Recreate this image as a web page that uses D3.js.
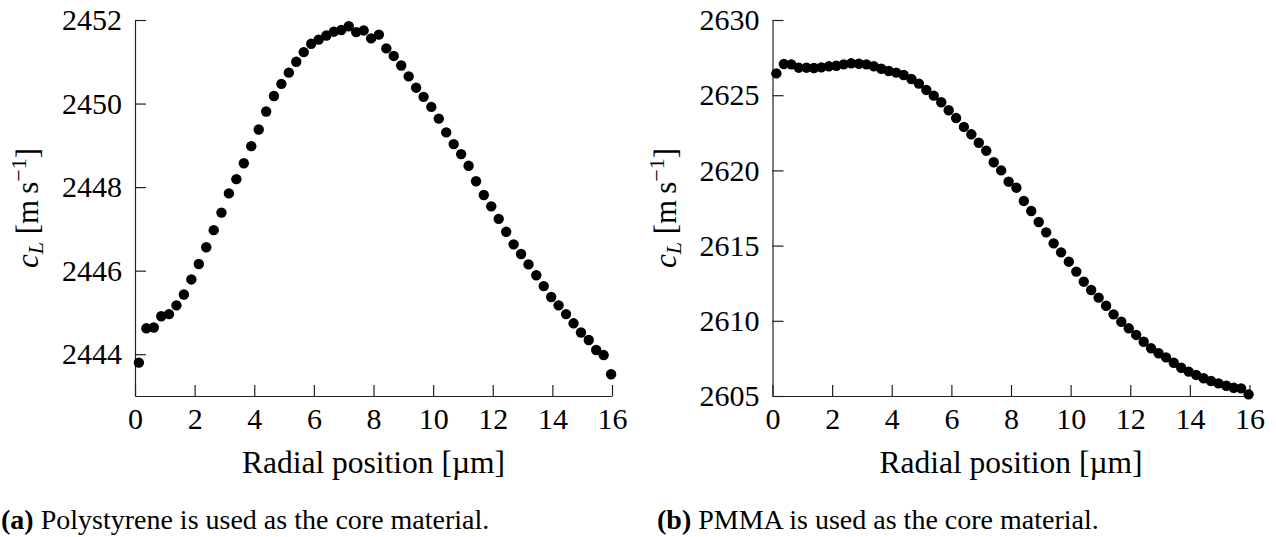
<!DOCTYPE html>
<html>
<head>
<meta charset="utf-8">
<script src="https://cdn.jsdelivr.net/npm/d3@7"></script>
</head>
<body style="margin:0; background:#fff">
<div id="figure"></div>
<script>
//Radial position of every sample point [um]
var radialPos = [
  0.13, 0.38, 0.63, 0.88, 1.14, 1.39, 1.64, 1.89, 2.14, 2.39, 2.64, 2.90, 3.15, 3.40, 3.65, 3.90,
  4.15, 4.40, 4.66, 4.91, 5.16, 5.41, 5.66, 5.91, 6.16, 6.42, 6.67, 6.92, 7.17, 7.42, 7.67, 7.92,
  8.18, 8.43, 8.68, 8.93, 9.18, 9.43, 9.68, 9.94, 10.19, 10.44, 10.69, 10.94, 11.19, 11.44, 11.70, 11.95,
  12.20, 12.45, 12.70, 12.95, 13.20, 13.46, 13.71, 13.96, 14.21, 14.46, 14.71, 14.96, 15.22, 15.47, 15.72, 15.97
];

//Longitudinal sound speed, polystyrene core [m/s]
var cLPolystyrene = [
  2443.80, 2444.62, 2444.64, 2444.91, 2444.96, 2445.17, 2445.43, 2445.79, 2446.16, 2446.56, 2446.97, 2447.39, 2447.85, 2448.19, 2448.57, 2448.98,
  2449.38, 2449.81, 2450.18, 2450.47, 2450.74, 2451.00, 2451.23, 2451.43, 2451.53, 2451.63, 2451.72, 2451.76, 2451.85, 2451.71, 2451.75, 2451.56,
  2451.65, 2451.32, 2451.14, 2450.91, 2450.65, 2450.38, 2450.16, 2449.92, 2449.64, 2449.31, 2449.03, 2448.79, 2448.51, 2448.14, 2447.81, 2447.54,
  2447.24, 2446.93, 2446.63, 2446.40, 2446.15, 2445.89, 2445.63, 2445.37, 2445.17, 2444.96, 2444.74, 2444.52, 2444.34, 2444.10, 2443.98, 2443.52
];

//Longitudinal sound speed, PMMA core [m/s]
var cLPMMA = [
  2626.45, 2627.07, 2627.05, 2626.83, 2626.83, 2626.81, 2626.85, 2626.92, 2626.96, 2627.05, 2627.12, 2627.09, 2627.05, 2626.92, 2626.76, 2626.61,
  2626.50, 2626.34, 2626.08, 2625.77, 2625.35, 2624.97, 2624.53, 2624.00, 2623.48, 2622.89, 2622.40, 2621.84, 2621.31, 2620.54, 2620.00, 2619.25,
  2618.85, 2617.97, 2617.30, 2616.57, 2615.88, 2615.15, 2614.55, 2613.93, 2613.27, 2612.60, 2612.05, 2611.54, 2611.00, 2610.43, 2609.94, 2609.50,
  2609.06, 2608.61, 2608.17, 2607.84, 2607.57, 2607.21, 2606.88, 2606.62, 2606.40, 2606.18, 2606.00, 2605.84, 2605.68, 2605.55, 2605.51, 2605.11
];

//Tick values
var xTickVals = [0, 2, 4, 6, 8, 10, 12, 14, 16];
var psTickVals = [2444, 2446, 2448, 2450, 2452];
var pmmaTickVals = [2605, 2610, 2615, 2620, 2625, 2630];

//Sub-captions
var captionTags = ["(a)", "(b)"];
var captionTexts = [
  " Polystyrene is used as the core material.",
  " PMMA is used as the core material."
];

var serifFont = "'Liberation Serif'";

//Specify svg size and plot area
var svgWidth = 1276;
var svgHeight = 537;
var plotTop = 20;
var plotWidth = 477;
var plotHeight = 376;

var svg = d3.select("#figure")
  .append("svg")
  .attr("width", svgWidth)
  .attr("height", svgHeight);


function drawPanel(panel) {

  var chartGroup = svg.append("g")
    .attr("transform", `translate(${panel.left}, ${plotTop})`);

  var xLinearScale = d3.scaleLinear()
    .domain([0, 16])
    .range([0, plotWidth]);

  var yLinearScale = d3.scaleLinear()
    .domain(panel.yDomain)
    .range([plotHeight, 0]);

  //ticks point into the plot
  var bottomAxis = d3.axisBottom(xLinearScale)
    .tickValues(xTickVals)
    .tickFormat(d3.format("d"))
    .tickSize(-11)
    .tickSizeOuter(0)
    .tickPadding(12);

  var leftAxis = d3.axisLeft(yLinearScale)
    .tickValues(panel.yTicks)
    .tickFormat(d3.format("d"))
    .tickSize(-11)
    .tickSizeOuter(0)
    .tickPadding(13);

  chartGroup.append("g")
    .attr("transform", `translate(0, ${plotHeight})`)
    .call(bottomAxis)
    .attr("font-family", null);

  chartGroup.append("g")
    .call(leftAxis)
    .attr("font-family", null);

  chartGroup.selectAll(".tick text")
    .style("font-size", "30px")
    .attr("fill", "#000");

  chartGroup.selectAll(".domain, .tick line")
    .attr("stroke", "#222")
    .attr("stroke-width", 1.2);

  //markers
  chartGroup.selectAll("circle")
    .data(radialPos)
    .enter()
    .append("circle")
    .attr("cx", d => xLinearScale(d))
    .attr("cy", (d, i) => yLinearScale(panel.values[i]))
    .attr("r", 5.2)
    .attr("fill", "#000");

  //x label
  chartGroup.append("text")
    .attr("x", plotWidth / 2)
    .attr("y", 453)
    .attr("text-anchor", "middle")
    .style("font-size", "31.5px")
    .text("Radial position [\u00b5m]");

  //y label, c_L [m s^-1]
  var yTitle = chartGroup.append("text")
    .attr("transform", `translate(-97, ${plotHeight / 2}) rotate(-90)`)
    .attr("text-anchor", "middle")
    .style("font-size", "31px");

  yTitle.append("tspan").style("font-style", "italic").text("c");
  yTitle.append("tspan").style("font-style", "italic").style("font-size", "22px").attr("dy", 5).text("L");
  yTitle.append("tspan").attr("dy", -5).text(" [m\u2009s");
  yTitle.append("tspan").style("font-size", "22px").attr("dy", -12).text("\u22121");
  yTitle.append("tspan").attr("dy", 12).text("]");

  //caption
  var caption = svg.append("text")
    .attr("x", panel.captionX)
    .attr("y", 529)
    .style("font-size", "28px");

  caption.append("tspan").style("font-weight", "bold").text(panel.tag);
  caption.append("tspan").text(panel.caption);
}


drawPanel({
  left: 135,
  values: cLPolystyrene,
  yDomain: [2443, 2452],
  yTicks: psTickVals,
  tag: captionTags[0],
  caption: captionTexts[0],
  captionX: 1
});

drawPanel({
  left: 772.5,
  values: cLPMMA,
  yDomain: [2605, 2630],
  yTicks: pmmaTickVals,
  tag: captionTags[1],
  caption: captionTexts[1],
  captionX: 657
});

//serif face on every label and tspan
svg.selectAll("text, tspan")
  .style("font-family", serifFont, "important");
</script>
</body>
</html>
